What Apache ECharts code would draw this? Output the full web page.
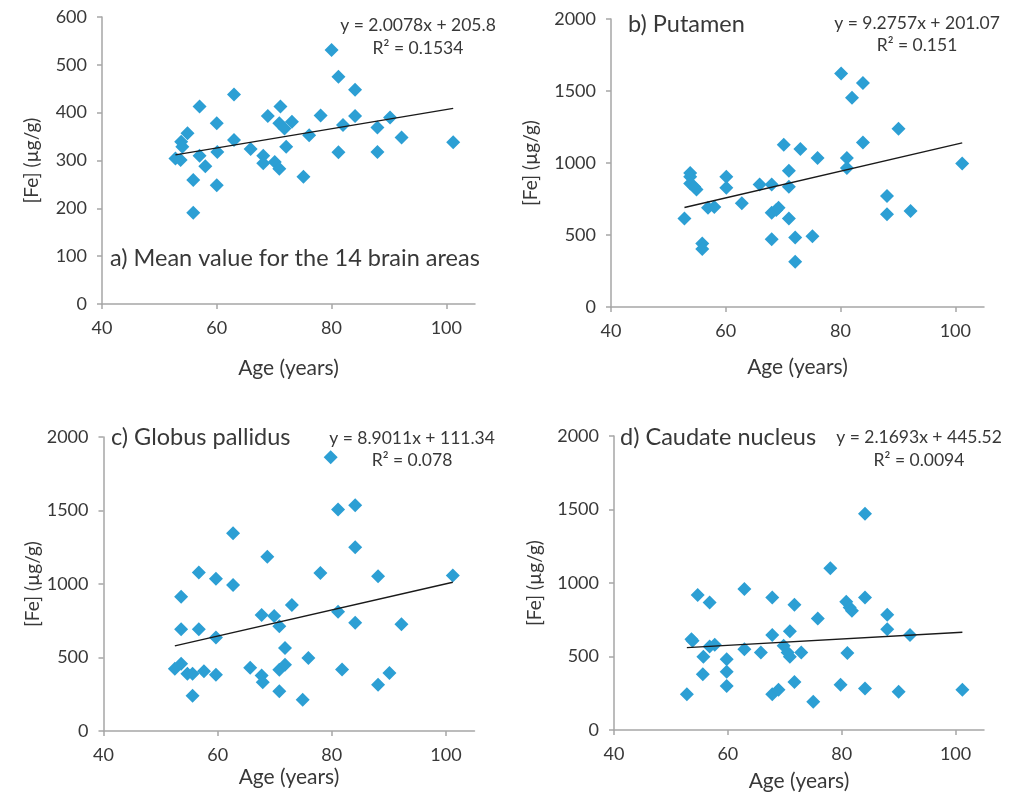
<!DOCTYPE html>
<html><head><meta charset="utf-8">
<script src="https://cdn.jsdelivr.net/npm/echarts@6/dist/echarts.min.js"></script>
<style>html,body{margin:0;padding:0;background:#fff}#c{width:1009px;height:799px}</style>
</head><body><div id="c"></div>
<script>
// Panel data: [age (years), Fe (µg/g)]
const meanData = [[80,531],[81.2,475],[84.1,448],[63,438],[57,413],[71.1,413],[68.9,393],[78.1,394],[84.1,393],[60,378],[70.9,378],[73.1,381],[71.8,367],[82,374],[88,369],[90.2,390],[54.9,357],[53.8,339],[54,329],[63,343],[76.1,353],[92.2,348],[101.2,338],[65.9,324],[60.1,318],[57,310],[68.1,310],[68.1,294],[70.1,297],[70.9,283],[72.1,329],[81.2,317],[88,318],[52.8,304],[53.7,301],[58,288],[55.9,259],[60,248],[75.1,266],[55.9,191]];
const putamenData = [[80.1,1621],[83.9,1556],[82,1453],[90.1,1237],[83.9,1143],[70.1,1127],[73,1097],[76,1035],[81.1,1035],[81.1,966],[101.2,996],[71,947],[53.8,931],[53.8,904],[60.1,904],[53.8,858],[54.5,835],[54.9,816],[60.1,828],[65.9,851],[68,851],[71,835],[56.9,690],[58,694],[62.8,720],[68,655],[68.8,674],[69.2,690],[52.8,614],[71,614],[88.1,770],[88.1,644],[92.2,667],[68,471],[72.1,483],[75.1,492],[55.9,441],[55.9,402],[72.1,315]];
const pallidusData = [[79.8,1863],[84.1,1536],[81.1,1506],[62.7,1346],[84.1,1250],[68.7,1186],[56.7,1079],[78,1074],[88.1,1052],[101.2,1058],[59.7,1036],[62.7,994],[53.6,914],[73,857],[67.7,789],[69.9,782],[81.1,812],[70.8,713],[84.1,736],[92.2,727],[53.6,693],[56.7,693],[59.7,636],[71.8,565],[75.9,496],[52.5,423],[53.6,457],[54.7,389],[55.6,389],[57.6,407],[59.7,382],[65.7,430],[67.7,377],[67.9,331],[70.8,416],[71.8,450],[81.8,418],[90.1,395],[88.1,315],[55.6,240],[70.8,270],[74.9,213]];
const caudateData = [[84.1,1471],[78,1100],[62.9,959],[54.7,918],[67.8,902],[84.1,902],[56.8,868],[71.7,852],[80.8,873],[81.4,834],[81.8,811],[88,784],[75.8,759],[88,686],[70.9,671],[53.6,618],[53.8,607],[67.8,646],[92,646],[56.8,568],[57.7,580],[62.9,550],[65.8,527],[69.8,573],[70.5,527],[70.9,498],[72.9,527],[81,523],[55.7,498],[59.8,482],[59.8,396],[55.6,380],[59.8,300],[71.7,327],[79.8,307],[84.1,282],[90,261],[101.2,273],[67.8,243],[68.9,273],[52.8,243],[75,193]];

const panelTitles = ['a) Mean value for the 14 brain areas', 'b) Putamen', 'c) Globus pallidus', 'd) Caudate nucleus'];
const slopes = [2.0078, 9.2757, 8.9011, 2.1693];
const intercepts = [205.8, 201.07, 111.34, 445.52];
const equations = ['y = 2.0078x + 205.8', 'y = 9.2757x + 201.07', 'y = 8.9011x + 111.34', 'y = 2.1693x + 445.52'];
const rSquared = ['R² = 0.1534', 'R² = 0.151', 'R² = 0.078', 'R² = 0.0094'];
const xTicks = [40, 60, 80, 100];
const yMaxes = [600, 2000, 2000, 2000];
const yIntervals = [100, 500, 500, 500];

const datasets = [meanData, putamenData, pallidusData, caudateData];

const FONT = 'Lato';
const TXT = '#383838';
const AXC = '#a6a6a6';
const MARK = '#2c9fd4';

const grids = [
  {left: 102, top: 17, width: 373, height: 287},
  {left: 611, top: 19, width: 373, height: 288},
  {left: 103.5, top: 437, width: 371, height: 294},
  {left: 614, top: 436, width: 370, height: 294}
];
const yNameGaps = [61, 71, 61, 70];
const xNameGaps = [54, 50, 36, 41];

function trend(i) {
  const xs = datasets[i].map(d => d[0]);
  const x0 = Math.min(...xs), x1 = Math.max(...xs);
  return [[x0, slopes[i]*x0 + intercepts[i]], [x1, slopes[i]*x1 + intercepts[i]]];
}

const xAxis = grids.map((g, i) => ({
  gridIndex: i, type: 'value', min: 40, max: 105, interval: 20,
  name: 'Age (years)', nameLocation: 'middle', nameGap: xNameGaps[i],
  nameTextStyle: {fontFamily: FONT, fontSize: 21, color: TXT},
  axisLine: {show: true, lineStyle: {color: AXC, width: 1.5}},
  axisTick: {show: true, length: 5, customValues: xTicks, lineStyle: {color: AXC, width: 1.5}},
  axisLabel: {customValues: xTicks, fontFamily: FONT, fontSize: 18, color: TXT, margin: 15},
  splitLine: {show: false}
}));
const yAxis = grids.map((g, i) => ({
  gridIndex: i, type: 'value', min: 0, max: yMaxes[i], interval: yIntervals[i],
  name: '[Fe] (µg/g)', nameLocation: 'middle', nameGap: yNameGaps[i], nameRotate: 90,
  nameTextStyle: {fontFamily: FONT, fontSize: 19, color: TXT},
  axisLine: {show: true, lineStyle: {color: AXC, width: 1.5}},
  axisTick: {show: true, length: 5, lineStyle: {color: AXC, width: 1.5}},
  axisLabel: {fontFamily: FONT, fontSize: 18, color: TXT, margin: 15, formatter: v => String(v)},
  splitLine: {show: false}
}));

const series = [];
datasets.forEach((d, i) => {
  series.push({type: 'scatter', xAxisIndex: i, yAxisIndex: i, data: d, symbol: 'diamond', symbolSize: 14,
    itemStyle: {color: MARK, opacity: 1}, z: 2, silent: true});
  series.push({type: 'line', xAxisIndex: i, yAxisIndex: i, data: trend(i), symbol: 'none',
    lineStyle: {color: '#1a1a1a', width: 1.4}, z: 3, silent: true});
});

const titlePos = [[110, 258], [628, 24], [111, 437], [620, 437]];
const eqPos = [[418, 25, 48], [917, 23, 45], [412, 438, 460], [919, 437, 460]];
const graphic = [];
panelTitles.forEach((t, i) => {
  graphic.push({type: 'text', x: titlePos[i][0], y: titlePos[i][1],
    style: {text: t, font: '23.5px ' + FONT, fill: TXT, textAlign: 'left', textVerticalAlign: 'middle'}});
  graphic.push({type: 'text', x: eqPos[i][0], y: eqPos[i][1],
    style: {text: equations[i], font: '17.5px ' + FONT, fill: TXT, textAlign: 'center', textVerticalAlign: 'middle'}});
  graphic.push({type: 'text', x: eqPos[i][0], y: eqPos[i][2],
    style: {text: rSquared[i], font: '17.5px ' + FONT, fill: TXT, textAlign: 'center', textVerticalAlign: 'middle'}});
});

const chart = echarts.init(document.getElementById('c'), null, {renderer: 'canvas'});
chart.setOption({animation: false, backgroundColor: '#fff', grid: grids, xAxis, yAxis, series, graphic});
</script></body></html>
